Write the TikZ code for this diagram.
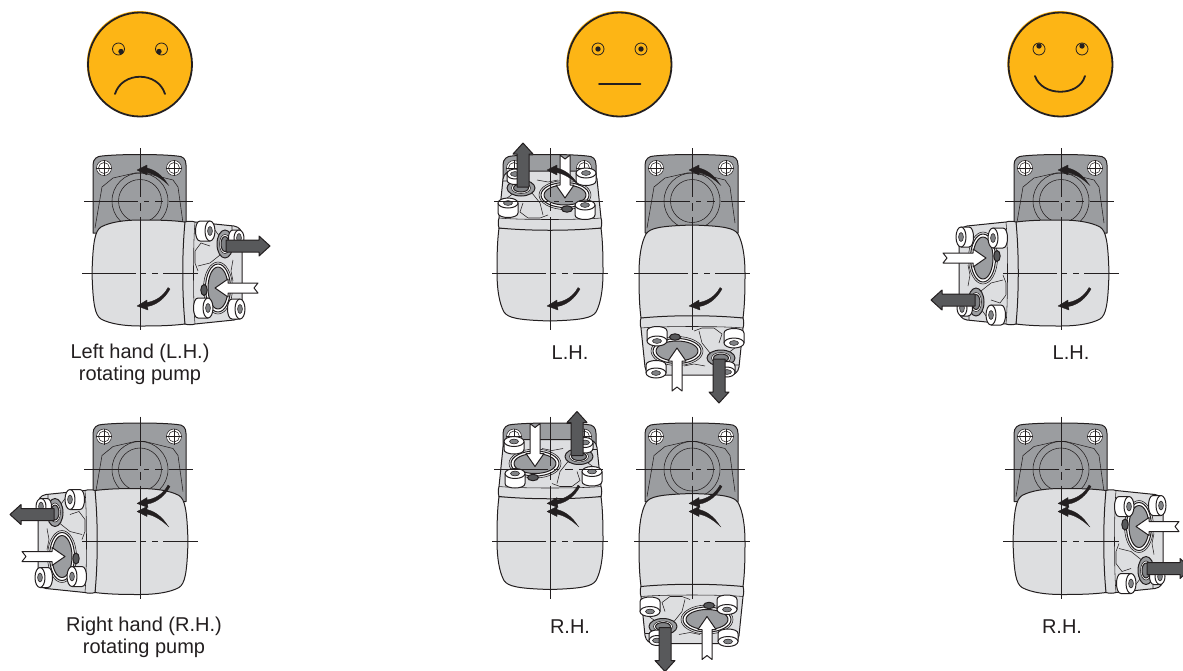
\documentclass[tikz,border=0pt]{standalone}
\usepackage{fontspec}
\setmainfont{Liberation Sans}
\definecolor{facefill}{HTML}{FDB515}
\definecolor{inkline}{HTML}{231F20}
\definecolor{bodygray}{HTML}{DDDEE0}
\definecolor{flangegray}{HTML}{9B9DA0}
\definecolor{portgray}{HTML}{808285}
\definecolor{flowgray}{HTML}{58595B}
\newcommand{\pumpview}[4]{
    \pic at (#1,#2) {flange};
    \pic[#3] at (#1,#2) {pumphead};
    \pic at (#1,#2) {axes};
    \pic[#3] at (#1,#2) {flows};
    \pic at (#1,#2) {#4};
}
\newcommand{\turnover}{(28,-88.5) .. controls (22,-98) and (15,-103) .. (7,-105) -- (7,-108) -- (-3,-103) -- (7,-98) -- (7,-100.5)
    .. controls (14,-99) and (21,-95) .. (29,-87.5) -- cycle}
\newcommand{\turnunder}{(28,14.5) .. controls (23,24) and (15,28) .. (7,29.5) -- (7,27) -- (-3,33) -- (8,37) -- (7.5,33.5)
    .. controls (17,32) and (25,25) .. (30,16) -- cycle}
\begin{document}
\begin{tikzpicture}[x=1pt,y=-1pt,>=stealth,thick,
    outline/.style={draw=inkline,line width=1pt,line join=round},
    thinline/.style={draw=inkline,line width=0.55pt},
    axis/.style={draw=inkline,line width=0.6pt},
    ring/.style={draw=inkline,line width=1.8pt},
    turn/.style={fill=inkline,draw=inkline,line width=0.3pt,line join=round},
    label/.style={text=inkline,align=center,font=\fontsize{20}{22}\selectfont},
    pics/flange/.style={code={
        \path[outline,fill=flangegray] (-47,-40) -- (-47,-108) .. controls (-47,-114) and (-43,-117) .. (-38,-117)
            .. controls (-20,-119) and (20,-119) .. (37,-117) .. controls (43,-117) and (46,-114) .. (46,-108) -- (46,-40) -- cycle;
        \draw[thinline] (-45,-45) -- (-38,-86) -- (-27,-95) -- (-5,-100) -- (5,-100) -- (33,-93) -- (38,-86) -- (43,-50);
        \draw[thinline] (0,-72) circle [radius=28pt];
        \draw[thinline] (0,-72) circle [radius=21.5pt];
        \foreach \hx in {-36,34} {
            \path[thinline,fill=white] (\hx,-105) circle [radius=7.5pt];
            \draw[thinline] (\hx,-105) circle [radius=5.5pt];
            \draw[thinline] (\hx-8,-105) -- (\hx+8,-105) (\hx,-113) -- (\hx,-97);
        }
    }},
    pics/pumphead/.style={code={
        % motor body and the collar of the head, drawn with the head on top
        \path[outline,fill=bodygray] (-51,-45) .. controls (-53,-30) and (-53,-12) .. (-53,0)
            .. controls (-53,15) and (-51,30) .. (-46,39) .. controls (-42,45) and (-32,47) .. (0,48)
            .. controls (32,47) and (42,45) .. (46,39) .. controls (51,30) and (53,15) .. (53,0)
            .. controls (53,-12) and (53,-30) .. (51,-45) -- cycle;
        \path[outline,fill=bodygray] (-51,-45) .. controls (-52,-48) and (-52,-52) .. (-51,-55) -- (-47,-94)
            .. controls (-46,-100) and (-42,-102) .. (-36,-102) -- (36,-102) .. controls (42,-102) and (46,-100) .. (47,-94)
            -- (51,-55) .. controls (52,-52) and (52,-48) .. (51,-45) .. controls (20,-42) and (-20,-42) .. (-51,-45) -- cycle;
        \draw[thinline] (-51,-55) .. controls (-30,-53) and (30,-53) .. (51,-55);
        \draw[thinline] (-47,-92) -- (-30,-92) (-27,-70) -- (-30,-61) -- (-22,-55) -- (-10,-55) -- (-2,-58);
        \draw[thinline] (-18,-80) -- (-10,-70) -- (-7,-58) (-13,-93) -- (-2,-91) -- (8,-93);
        \draw[thinline] (-47,-72) -- (-36,-80) (-35,-60) -- (-40,-74);
        % inlet and plug
        \path[thinline,fill=bodygray] (15,-78) ellipse [x radius=26pt,y radius=14.5pt];
        \path[outline,fill=white] (15,-78) ellipse [x radius=24pt,y radius=12.5pt];
        \path[outline,fill=flangegray] (15,-78) ellipse [x radius=21pt,y radius=10pt];
        \path[outline,fill=flowgray] (17,-64) ellipse [x radius=5.5pt,y radius=3.2pt];
        % outlet
        \path[outline,fill=flangegray] (-29,-85) ellipse [x radius=14pt,y radius=8pt];
        \path[thinline,fill=white] (-29,-85) ellipse [x radius=9.5pt,y radius=5.5pt];
        \path[outline,fill=portgray] (-29,-85) ellipse [x radius=7.5pt,y radius=4pt];
        % bosses
        \foreach \bx/\by/\br/\bh in {-35/-99/8/6, 36/-100/10/8, -42/-70/10/10, 35/-68/10/10} {
            \path[outline,fill=white] (\bx-\br,\by) -- (\bx-\br,\by+\bh)
                .. controls (\bx-\br,\by+\bh+6) and (\bx+\br,\by+\bh+6) .. (\bx+\br,\by+\bh) -- (\bx+\br,\by) -- cycle;
            \path[outline,fill=white] (\bx,\by) ellipse [x radius=\br pt,y radius=5pt];
            \path[thinline,fill=portgray] (\bx,\by) ellipse [x radius=4.5pt,y radius=2.4pt];
        }
    }},
    pics/axes/.style={code={
        \draw[axis] (0,-125) -- (0,-76) (0,-70) -- (0,-62) (0,-56) -- (0,57);
        \draw[axis] (-56,-72) -- (-2,-72) (4,-72) -- (9,-72) (15,-72) -- (23,-72) (29,-72) -- (53,-72);
        \draw[axis] (-58,0) -- (-4,0) (1,0) -- (6,0) (12,0) -- (18,0) (23,0) -- (58,0);
    }},
    pics/flows/.style={code={
        \path[outline,fill=flowgray] (-33,-86) -- (-33,-119) -- (-37,-119) -- (-27,-130) -- (-17,-119) -- (-21,-119) -- (-21,-86) -- cycle;
        \path[outline,fill=white] (10,-118) -- (15,-114) -- (20,-118) -- (20,-88) -- (24,-88) -- (15,-75) -- (6,-88) -- (10,-88) -- cycle;
    }},
    pics/lhturn/.style={code={
        \path[turn] \turnover;
        \path[turn] \turnunder;
    }},
    pics/rhturn/.style={code={
        \path[turn,shift={(0,-71)}] \turnunder;
        \path[turn,shift={(0,73)}] \turnover;
    }}]
    \useasboundingbox (0,0) rectangle (1183,670);

    % faces
    \foreach \fc/\dx/\dy in {140/2.5/2.5, 619.5/0/0, 1060.5/0/-3} {
        \fill[facefill] (\fc-0.7,63.5) circle [radius=52.5pt];
        \draw[ring] (\fc,64.5) circle [radius=52pt];
        \draw[inkline,line width=0.8pt] (\fc-21.5,49) circle [radius=6pt] (\fc+21.5,49) circle [radius=6pt];
        \fill[inkline] (\fc-21.5+\dx,49+\dy) circle [radius=2.7pt] (\fc+21.5-\dx,49+\dy) circle [radius=2.7pt];
    }
    \draw[ring,line cap=round] (115,94) .. controls (122,71) and (158,71) .. (165,94);
    \draw[ring,line cap=round] (599,84) -- (640.5,84);
    \draw[ring,line cap=round] (1035,76) .. controls (1042,97) and (1079,97) .. (1085,76);

    % row of left hand pumps
    \pumpview{140}{273}{rotate=-90}{lhturn}
    \pumpview{550}{273}{rotate=0}{lhturn}
    \pumpview{692}{273}{rotate=180}{lhturn}
    \pumpview{1061}{273}{rotate=90}{lhturn}

    % row of right hand pumps
    \pumpview{140}{541.5}{rotate=90,xscale=-1}{rhturn}
    \pumpview{550}{541.5}{xscale=-1}{rhturn}
    \pumpview{692}{541.5}{rotate=180,xscale=-1}{rhturn}
    \pumpview{1061}{541.5}{rotate=-90,xscale=-1}{rhturn}

    \node (lhnote) [label] at (140,364.5) {Left hand (L.H.)\\rotating pump};
    \node (lhmid) [label] at (570,353) {L.H.};
    \node (lhright) [label] at (1071,353) {L.H.};
    \node (rhnote) [label] at (144,637) {Right hand (R.H.)\\rotating pump};
    \node (rhmid) [label] at (570,627) {R.H.};
    \node (rhright) [label] at (1062,627) {R.H.};
\end{tikzpicture}
\end{document}
